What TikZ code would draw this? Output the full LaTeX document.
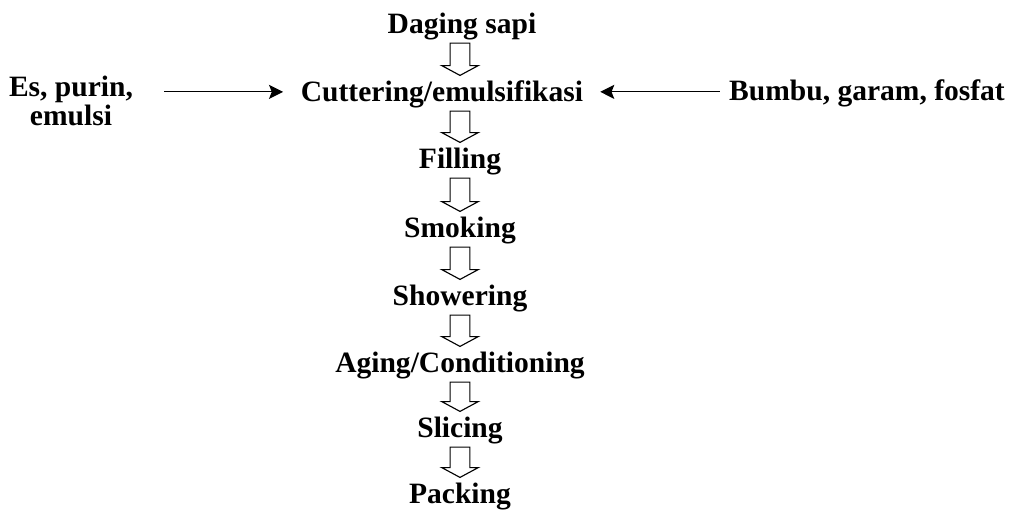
\documentclass[tikz,border=0pt]{standalone}
\usepackage{fontspec}
\setmainfont{Liberation Serif}
\usetikzlibrary{calc,arrows.meta}

\begin{document}
\begin{tikzpicture}[x=0.025cm,y=-0.025cm,
  stage/.style={font=\fontsize{21}{25}\selectfont\bfseries, inner sep=0pt,
    text height=14pt, text depth=5pt, anchor=base},
  flow/.style={line width=0.8pt, to path={let \p1=(\tikztostart), \p2=(\tikztotarget) in
    (\x1-7pt,\y1-2pt) -- (\x1-7pt,\y2+11pt) -- (\x1-13pt,\y2+11pt) -- (\x1,\y2+4pt)
    -- (\x1+13pt,\y2+11pt) -- (\x1+7pt,\y2+11pt) -- (\x1+7pt,\y1-2pt) -- cycle}},
  feed/.style={line width=0.9pt, -{Stealth[length=10pt,width=10pt,inset=2pt]}}]
\useasboundingbox (0,0) rectangle (1019,513);

\node[stage] (daging) at (462,33) {Daging sapi};
\node[stage] (cutter) at (442,101) {Cuttering/emulsifikasi};
\node[stage] (filling) at (460,168) {Filling};
\node[stage] (smoking) at (460,237) {Smoking};
\node[stage] (shower) at (460,305) {Showering};
\node[stage] (aging) at (460,372) {Aging/Conditioning};
\node[stage] (slicing) at (460,437) {Slicing};
\node[stage] (packing) at (460,503) {Packing};

\node[font=\fontsize{21}{17.8}\selectfont\bfseries, inner sep=0pt, align=center, anchor=base]
  (es) at (71,125) {Es, purin,\\emulsi};
\node[stage] (bumbu) at (867,100) {Bumbu, garam, fosfat};

\draw[flow] (daging.south -| filling) to (cutter.north -| filling);
\draw[flow] (cutter.south -| filling) to (filling.north);
\draw[flow] (filling.south) to (smoking.north);
\draw[flow] (smoking.south) to (shower.north);
\draw[flow] (shower.south) to (aging.north);
\draw[flow] (aging.south) to (slicing.north);
\draw[flow] (slicing.south) to (packing.north);

\draw[feed, shorten <=22pt, shorten >=12.5pt] ([yshift=2pt]cutter.west -| es.east) -- ([yshift=2pt]cutter.west);
\draw[feed, shorten <=6.5pt, shorten >=12pt] ([yshift=2pt]cutter.east -| bumbu.west) -- ([yshift=2pt]cutter.east);
\end{tikzpicture}
\end{document}
